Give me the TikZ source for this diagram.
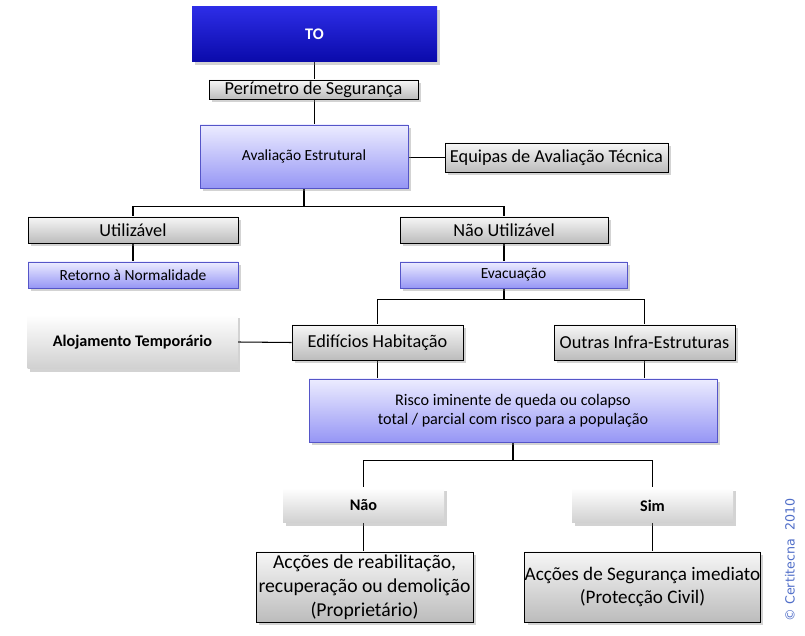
\documentclass[tikz,border=0pt]{standalone}
\usepackage{fontspec}
\setmainfont{Carlito}
\newfontfamily\copyfont{DejaVu Sans}
\usetikzlibrary{shadows, backgrounds}
\definecolor{totop}{RGB}{45, 45, 230}
\definecolor{tobot}{RGB}{10, 10, 170}
\definecolor{graytop}{RGB}{246, 246, 246}
\definecolor{graybot}{RGB}{188, 188, 188}
\definecolor{lavtop}{RGB}{236, 236, 255}
\definecolor{lavbot}{RGB}{150, 150, 245}
\definecolor{lavedge}{RGB}{85, 85, 200}
\definecolor{softbot}{RGB}{208, 208, 208}
\definecolor{copyblue}{RGB}{80, 110, 200}

\begin{document}
\begin{tikzpicture}[
    x=0.025cm, y=-0.025cm,
    dims/.style 2 args={minimum width=#1*0.025cm, minimum height=#2*0.025cm},
    boxbase/.style={inner sep=0pt, align=center,
                    drop shadow={shadow xshift=2pt, shadow yshift=-2pt, opacity=0.35}},
    graybox/.style={boxbase, draw=black, line width=0.6pt, top color=graytop, bottom color=graybot},
    lavbox/.style={boxbase, draw=lavedge, line width=0.6pt, top color=lavtop, bottom color=lavbot},
    softbox/.style={boxbase, top color=white, bottom color=softbot,
                    font=\fontsize{11.5}{13}\selectfont\bfseries},
    bigtext/.style={font=\fontsize{13}{15}\selectfont},
    smalltext/.style={font=\fontsize{11}{13}\selectfont},
    wire/.style={line width=0.75pt}
]
    \useasboundingbox (0,0) rectangle (805,636);

    % top of the chain
    \node[boxbase, dims={245}{55}, top color=totop, bottom color=tobot, text=white,
          font=\fontsize{11.5}{13}\selectfont\bfseries] (tobox) at (314.5,34.5) {TO};
    \node[graybox, bigtext, dims={209}{19}] (perim) at (313.5,89.5) {Perímetro de Segurança};
    \node[lavbox, smalltext, dims={208}{63}] (aval) at (304,156.5) {Avaliação Estrutural};
    \node[graybox, bigtext, dims={223}{29}] (equipas) at (556.5,157.5) {Equipas de Avaliação Técnica};

    % first split
    \node[graybox, bigtext, dims={210}{26}] (util) at (133,230) {Utilizável};
    \node[graybox, bigtext, dims={208}{26}] (naoutil) at (504,230) {Não Utilizável};
    \node[lavbox, smalltext, dims={210}{26}] (retorno) at (133,275) {Retorno à Normalidade};
    \node[lavbox, smalltext, dims={227}{26}] (evac) at (513.5,275) {Evacuação};

    % buildings
    \node[softbox, dims={210}{54}] (aloj) at (132.5,342) {Alojamento Temporário};
    \node[graybox, bigtext, dims={171}{35}] (edif) at (377.5,342.5) {Edifícios Habitação};
    \node[graybox, bigtext, dims={181}{35}] (outras) at (644.5,342.5) {Outras Infra-Estruturas};
    \node[lavbox, dims={408}{63}, font=\fontsize{11.5}{13.5}\selectfont] (risco) at (513,410.5)
        {Risco iminente de queda ou colapso\\total / parcial com risco para a população};

    % answers
    \node[softbox, dims={161}{35}] (nao) at (363.5,505.5) {Não};
    \node[softbox, dims={161}{35}] (sim) at (652.5,505.5) {Sim};
    \node[graybox, dims={217}{70}, font=\fontsize{14}{17}\selectfont] (reab) at (364.5,587)
        {Acções de reabilitação,\\recuperação ou demolição\\(Proprietário)};
    \node[graybox, dims={235}{70}, font=\fontsize{13.6}{17}\selectfont] (seg) at (642.5,587)
        {Acções de Segurança imediato\\(Protecção Civil)};

    \node[rotate=90, text=copyblue, font=\copyfont\fontsize{9}{11}\selectfont] (copy) at (790,560)
        {© Certitecna \ 2010};

    \begin{scope}[on background layer]
        \draw[wire] (tobox.south) -- (tobox.south |- aval.north);
        \draw[wire] (aval.east |- equipas.west) -- (equipas.west);
        \draw[wire] (aval.south) -- ++(0,18) coordinate (fork1);
        \draw[wire] (fork1) -| (util.north);
        \draw[wire] (fork1) -| (naoutil.north);
        \draw[wire] (util.south) -- (retorno.north);
        \draw[wire] (naoutil.south) -- (naoutil.south |- evac.north);
        \draw[wire] (naoutil.south |- evac.south) -- ++(0,11) coordinate (fork2);
        \draw[wire] (fork2) -| (edif.north);
        \draw[wire] (fork2) -| (outras.north);
        \draw[wire] (aloj.east) -- (edif.west);
        \draw[wire] (edif.south) -- (edif.south |- risco.north);
        \draw[wire] (outras.south) -- (outras.south |- risco.north);
        \draw[wire] (risco.south) -- ++(0,18) coordinate (fork3);
        \draw[wire] (fork3) -| (nao.north);
        \draw[wire] (fork3) -| (sim.north);
        \draw[wire] (nao.south) -- (nao.south |- reab.north);
        \draw[wire] (sim.south) -- (sim.south |- seg.north);
    \end{scope}
\end{tikzpicture}
\end{document}
